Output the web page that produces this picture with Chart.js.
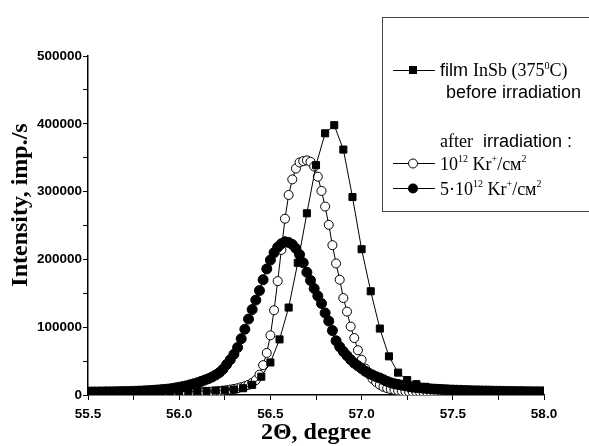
<!DOCTYPE html>
<html>
<head>
<meta charset="utf-8">
<script src="https://cdn.jsdelivr.net/npm/chart.js@4.4.1/dist/chart.umd.min.js"></script>
<style>
  html, body { margin: 0; padding: 0; background: #fff; }
  canvas { display: block; }
</style>
</head>
<body>
<canvas id="xrdChart" width="589" height="446"></canvas>
<script>
/* 2-theta positions, before irradiation (squares) */
const thetaBefore = [
    55.50, 55.55, 55.60, 55.65, 55.70, 55.75, 55.80, 55.85, 55.90, 55.95,
    56.00, 56.05, 56.10, 56.15, 56.20, 56.25, 56.30, 56.35, 56.40, 56.45,
    56.50, 56.55, 56.60, 56.65, 56.70, 56.75, 56.80, 56.85, 56.90, 56.95,
    57.00, 57.05, 57.10, 57.15, 57.20, 57.25, 57.30, 57.35, 57.40, 57.45,
    57.50, 57.55, 57.60, 57.65, 57.70, 57.75, 57.80, 57.85, 57.90, 57.95,
    58.00
];
const intensityBefore = [
    4000, 4000, 4000, 4000, 4500, 4500, 4500, 5000, 5000, 5000,
    5000, 5500, 5500, 6000, 6500, 7000, 8000, 10000, 15000, 27000,
    48000, 82000, 129000, 195000, 268000, 339000, 386000, 398000, 362000, 292000,
    215000, 153000, 98000, 57000, 33000, 22000, 16000, 12000, 10000, 9000,
    8000, 7500, 7000, 6500, 6000, 6000, 5500, 5500, 5000, 5000,
    4500
];

/* 2-theta positions, after irradiation (circles) */
const thetaAfter = [
    55.50, 55.52, 55.54, 55.56, 55.58, 55.60, 55.62, 55.64, 55.66, 55.68,
    55.70, 55.72, 55.74, 55.76, 55.78, 55.80, 55.82, 55.84, 55.86, 55.88,
    55.90, 55.92, 55.94, 55.96, 55.98, 56.00, 56.02, 56.04, 56.06, 56.08,
    56.10, 56.12, 56.14, 56.16, 56.18, 56.20, 56.22, 56.24, 56.26, 56.28,
    56.30, 56.32, 56.34, 56.36, 56.38, 56.40, 56.42, 56.44, 56.46, 56.48,
    56.50, 56.52, 56.54, 56.56, 56.58, 56.60, 56.62, 56.64, 56.66, 56.68,
    56.70, 56.72, 56.74, 56.76, 56.78, 56.80, 56.82, 56.84, 56.86, 56.88,
    56.90, 56.92, 56.94, 56.96, 56.98, 57.00, 57.02, 57.04, 57.06, 57.08,
    57.10, 57.12, 57.14, 57.16, 57.18, 57.20, 57.22, 57.24, 57.26, 57.28,
    57.30, 57.32, 57.34, 57.36, 57.38, 57.40, 57.42, 57.44, 57.46, 57.48,
    57.50, 57.52, 57.54, 57.56, 57.58, 57.60, 57.62, 57.64, 57.66, 57.68,
    57.70, 57.72, 57.74, 57.76, 57.78, 57.80, 57.82, 57.84, 57.86, 57.88,
    57.90, 57.92, 57.94, 57.96, 57.98, 58.00
];
// 10^12 Kr+/cm2 (open circles)
const intensityLowDose = [
    2000, 2000, 2000, 2000, 2100, 2100, 2100, 2200, 2200, 2200,
    2300, 2300, 2300, 2400, 2400, 2500, 2500, 2600, 2600, 2700,
    2800, 2900, 3000, 3100, 3200, 3300, 3400, 3500, 3600, 3800,
    4000, 4200, 4400, 4700, 5000, 5400, 5900, 6500, 7200, 8000,
    9000, 10000, 11500, 13000, 15000, 18000, 22000, 30000, 44000, 62000,
    88000, 125000, 168000, 214000, 260000, 295000, 318000, 334000, 343000, 345000,
    346000, 344000, 337000, 322000, 301000, 278000, 251000, 221000, 194000, 170000,
    143000, 123000, 101000, 84000, 66000, 52000, 39000, 31000, 24000, 19000,
    15000, 12000, 10000, 8500, 7500, 6500, 6000, 5500, 5000, 4700,
    4400, 4200, 4000, 3800, 3600, 3500, 3400, 3300, 3200, 3100,
    3000, 3000, 2900, 2900, 2900, 2800, 2800, 2800, 2700, 2700,
    2700, 2700, 2600, 2600, 2600, 2600, 2500, 2500, 2500, 2500,
    2500, 2400, 2400, 2400, 2400, 2400
];
// 5*10^12 Kr+/cm2 (filled circles)
const intensityHighDose = [
    4500, 4500, 4500, 4600, 4600, 4700, 4700, 4800, 4900, 5000,
    5100, 5200, 5400, 5600, 5800, 6000, 6300, 6600, 7000, 7400,
    7800, 8300, 8800, 9500, 10500, 11500, 12500, 13500, 15000, 16500,
    18000, 20000, 22000, 24000, 26500, 29500, 33000, 38000, 45000, 52000,
    60000, 70000, 83000, 97000, 112000, 126000, 140000, 154000, 170000, 186000,
    199000, 210000, 218000, 223000, 226000, 225000, 222000, 216000, 207000, 195000,
    181000, 169000, 157000, 146000, 135000, 121000, 109000, 95000, 80000, 71000,
    64000, 58000, 52000, 47000, 43000, 39000, 35000, 32000, 29500, 27000,
    25000, 22500, 20000, 18000, 16500, 15500, 14500, 13500, 12500, 11500,
    11000, 10500, 10000, 9500, 9000, 8700, 8400, 8100, 7800, 7500,
    7300, 7100, 6900, 6700, 6500, 6300, 6200, 6100, 6000, 5900,
    5800, 5700, 5600, 5500, 5400, 5300, 5200, 5100, 5000, 5000,
    4900, 4900, 4800, 4800, 4700, 4700
];

const SERIF = '"Liberation Serif", "Times New Roman", serif';
const SANS = '"Liberation Sans", Arial, sans-serif';

function toPoints(xs, ys) {
    return xs.map((x, i) => ({ x: x, y: ys[i] }));
}

// draw a line of text made of several runs (mixed fonts, superscripts)
function drawRuns(ctx, x, y, runs) {
    runs.forEach(r => {
        ctx.font = r.font;
        ctx.fillText(r.t, x, y + (r.dy || 0));
        x += ctx.measureText(r.t).width;
    });
}

const boxLegend = {
    id: 'boxLegend',
    afterDraw(chart) {
        const ctx = chart.ctx;
        ctx.save();

        // y axis title
        ctx.save();
        ctx.translate(21, 205);
        ctx.rotate(-Math.PI / 2);
        ctx.font = 'bold 24px ' + SERIF;
        ctx.fillStyle = '#000';
        ctx.textAlign = 'center';
        ctx.textBaseline = 'middle';
        ctx.fillText('Intensity, imp./s', 0, 0);
        ctx.restore();

        // legend frame
        ctx.strokeStyle = '#444';
        ctx.lineWidth = 1;
        ctx.strokeRect(382.5, 17.5, 220, 194);

        // sample lines + markers
        ctx.strokeStyle = '#000';
        [70, 163, 188].forEach(y => {
            ctx.beginPath();
            ctx.moveTo(393, y + 0.5);
            ctx.lineTo(435, y + 0.5);
            ctx.stroke();
        });
        ctx.fillStyle = '#000';
        ctx.fillRect(409, 66, 8, 8);
        ctx.beginPath();
        ctx.arc(413, 163.5, 4.5, 0, Math.PI * 2);
        ctx.fillStyle = '#fff';
        ctx.fill();
        ctx.stroke();
        ctx.beginPath();
        ctx.arc(413, 188.5, 5, 0, Math.PI * 2);
        ctx.fillStyle = '#000';
        ctx.fill();

        // legend texts
        const big = '18px ';
        const sup = '10px ';
        ctx.fillStyle = '#000';
        ctx.textAlign = 'left';
        ctx.textBaseline = 'alphabetic';
        drawRuns(ctx, 440, 76, [
            { t: 'film ', font: big + SANS },
            { t: 'InSb (375', font: big + SERIF },
            { t: '0', font: sup + SERIF, dy: -7 },
            { t: 'C)', font: big + SERIF }
        ]);
        drawRuns(ctx, 446, 98, [{ t: 'before irradiation', font: big + SANS }]);
        drawRuns(ctx, 440, 147, [
            { t: 'after', font: big + SERIF },
            { t: '  irradiation :', font: big + SANS }
        ]);
        drawRuns(ctx, 440, 170, [
            { t: '10', font: big + SERIF },
            { t: '12', font: sup + SERIF, dy: -8 },
            { t: ' Kr', font: big + SERIF },
            { t: '+', font: sup + SERIF, dy: -8 },
            { t: '/cм', font: big + SERIF },
            { t: '2', font: sup + SERIF, dy: -8 }
        ]);
        drawRuns(ctx, 440, 195, [
            { t: '5·10', font: big + SERIF },
            { t: '12', font: sup + SERIF, dy: -8 },
            { t: ' Kr', font: big + SERIF },
            { t: '+', font: sup + SERIF, dy: -8 },
            { t: '/cм', font: big + SERIF },
            { t: '2', font: sup + SERIF, dy: -8 }
        ]);
        ctx.restore();
    }
};

const tickFont = { family: SANS, size: 13.5, weight: 'bold' };

new Chart(document.getElementById('xrdChart'), {
    type: 'scatter',
    data: {
        datasets: [
            {
                label: 'film InSb (375°C) before irradiation',
                data: toPoints(thetaBefore, intensityBefore),
                showLine: true,
                borderColor: '#000',
                borderWidth: 1,
                pointStyle: 'rect',
                pointRadius: 5,
                pointBackgroundColor: '#000',
                pointBorderColor: '#000',
                pointBorderWidth: 1,
            },
            {
                label: '5·10^12 Kr+/cm2',
                data: toPoints(thetaAfter, intensityHighDose),
                showLine: true,
                borderColor: '#000',
                borderWidth: 1,
                pointStyle: 'circle',
                pointRadius: 5,
                pointBackgroundColor: '#000',
                pointBorderColor: '#000',
                pointBorderWidth: 1,
            },
            {
                label: '10^12 Kr+/cm2',
                data: toPoints(thetaAfter, intensityLowDose),
                showLine: true,
                borderColor: '#000',
                borderWidth: 1,
                pointStyle: 'circle',
                pointRadius: 4.5,
                pointBackgroundColor: '#fff',
                pointBorderColor: '#000',
                pointBorderWidth: 1,
            },
        ],
    },
    options: {
        responsive: false,
        animation: false,
        devicePixelRatio: 1,
        layout: {
            padding: { top: 56, right: 45, bottom: 0, left: 0 },
        },
        plugins: {
            legend: { display: false },
            tooltip: { enabled: false },
        },
        scales: {
            x: {
                type: 'linear',
                min: 55.5,
                max: 58.0,
                afterFit: s => { s.height = 51; },
                border: { color: '#000', width: 1.5 },
                grid: { drawOnChartArea: false, color: '#000', tickLength: 5 },
                ticks: {
                    stepSize: 0.25,
                    autoSkip: false,
                    maxRotation: 0,
                    padding: 6,
                    color: '#000',
                    font: tickFont,
                    callback: v => Math.abs(v * 2 - Math.round(v * 2)) < 1e-6 ? v.toFixed(1) : '',
                },
                title: {
                    display: true,
                    text: '2Θ, degree',
                    color: '#000',
                    font: { family: SERIF, size: 24, weight: 'bold', lineHeight: 1 },
                    padding: { top: 0, bottom: 1 },
                },
            },
            y: {
                min: 0,
                max: 500000,
                afterFit: s => { s.width = 88; },
                border: { color: '#000', width: 1.5 },
                grid: { drawOnChartArea: false, color: '#000', tickLength: 5 },
                ticks: {
                    stepSize: 50000,
                    autoSkip: false,
                    padding: 1,
                    color: '#000',
                    font: tickFont,
                    callback: v => v % 100000 === 0 ? String(v) : '',
                },
            },
        },
    },
    plugins: [boxLegend],
});
</script>
</body>
</html>
